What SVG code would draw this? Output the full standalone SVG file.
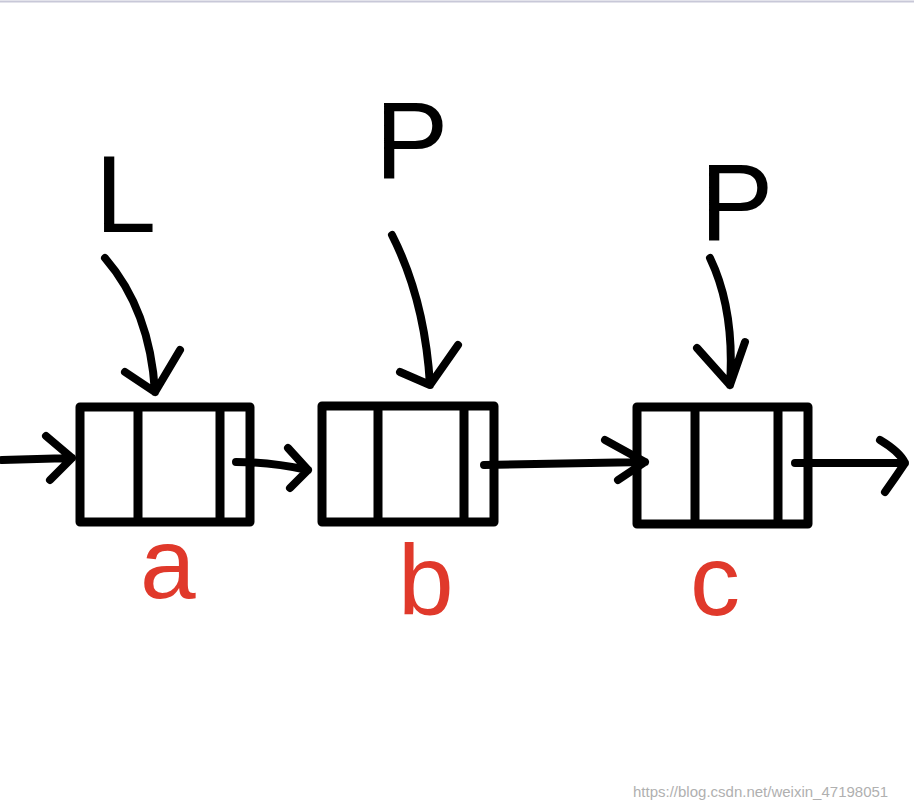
<svg xmlns="http://www.w3.org/2000/svg" width="914" height="808" viewBox="0 0 914 808">
<style>
.box{fill:none;stroke:#000;stroke-width:9;stroke-linejoin:round}
.ln{fill:none;stroke:#000;stroke-width:8;stroke-linecap:round;stroke-linejoin:round}
.lbl{font-family:"Liberation Sans",sans-serif;font-size:110px;fill:#000}
.red{font-family:"Liberation Sans",sans-serif;font-size:100px;fill:#e0392b}
.wm{font-family:"Liberation Sans",sans-serif;font-size:15px;fill:#b0b0b0}
</style>
<rect width="914" height="808" fill="#fff"/>
<line x1="0" y1="1.5" x2="914" y2="1.5" stroke="#c8c8d8" stroke-width="2"/>
<g id="node-a"><rect class="box" x="80" y="407" width="170" height="115"/><line class="box" x1="138" y1="407" x2="138" y2="522"/><line class="box" x1="220" y1="407" x2="220" y2="522"/></g>
<g id="node-b"><rect class="box" x="322" y="406" width="172" height="116"/><line class="box" x1="378" y1="406" x2="378" y2="522"/><line class="box" x1="464" y1="406" x2="464" y2="522"/></g>
<g id="node-c"><rect class="box" x="637" y="407" width="171" height="117"/><line class="box" x1="695" y1="407" x2="695" y2="524"/><line class="box" x1="778" y1="407" x2="778" y2="524"/></g>
<g id="label-L"><text class="lbl" x="95" y="232">L</text></g>
<g id="label-P1"><text class="lbl" x="375" y="178">P</text></g>
<g id="label-P2"><text class="lbl" x="700" y="240">P</text></g>
<g id="label-a"><text class="red" x="140" y="598">a</text></g>
<g id="label-b"><text class="red" x="398" y="615">b</text></g>
<g id="label-c"><text class="red" x="690" y="615">c</text></g>
<g id="connectors">
<path class="ln" d="M2 460 L72 458 M46 436 L72 458 L50 480"/>
<path class="ln" d="M236 462 Q270 462 308 470 M288 448 L308 470 L290 488"/>
<path class="ln" d="M484 465 L645 462 M605 440 L645 462 L618 480"/>
<path class="ln" d="M795 463 L905 463 M880 440 Q900 452 905 463 Q895 478 885 492"/>
<path class="ln" d="M105 258 Q150 310 155 392 M125 372 L155 392 L180 350"/>
<path class="ln" d="M392 235 Q425 300 430 385 M400 372 L430 385 L458 345"/>
<path class="ln" d="M710 258 Q735 310 730 385 M697 348 L730 385 L745 342"/>
</g>
<text class="wm" x="633" y="797">https://blog.csdn.net/weixin_47198051</text>
</svg>
